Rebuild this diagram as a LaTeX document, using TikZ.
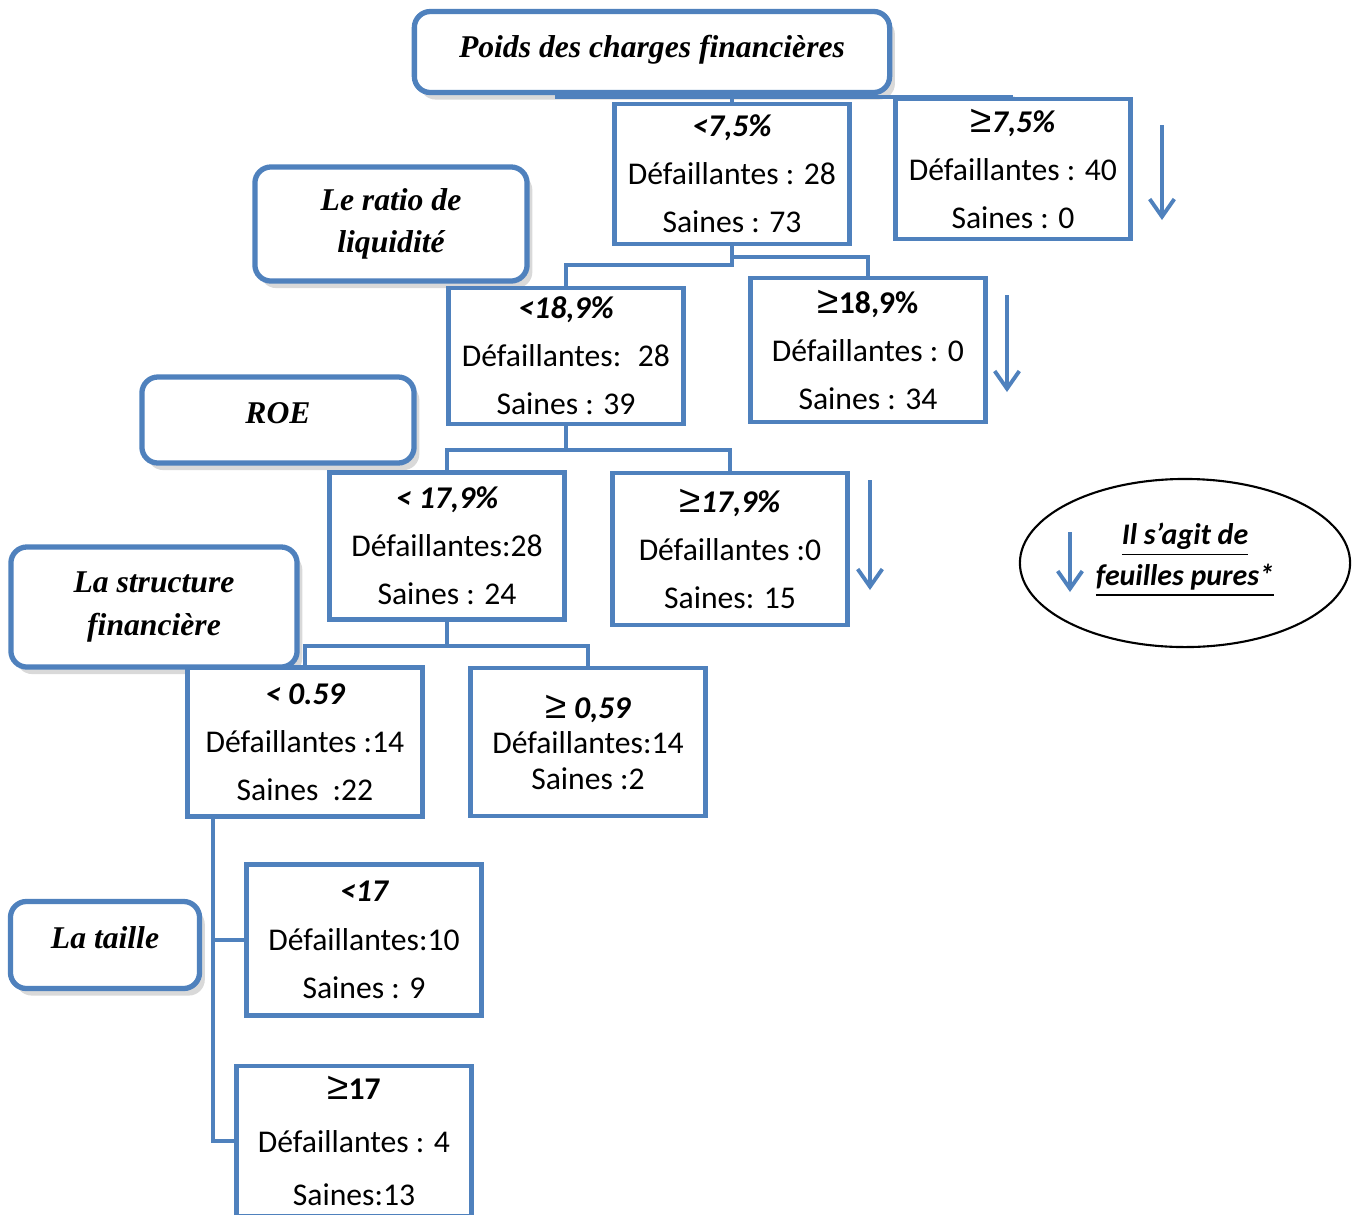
\documentclass[tikz,border=0pt]{standalone}
\usepackage{fontspec}
\setmainfont{Carlito}
\newfontfamily\titlefont{Liberation Serif}
\newfontfamily\geqfont{Liberation Sans}
\usepackage{tikz}
\usetikzlibrary{arrows.meta,shapes.geometric,shadows}
\definecolor{boxblue}{RGB}{79,129,189}
\newcommand{\gq}{{\geqfont\mdseries\upshape\fontsize{11}{11}\selectfont ≥}}
\newcommand{\cond}[1]{{\bfseries\itshape #1}}

\begin{document}
\begin{tikzpicture}[x=0.01cm, y=-0.01cm, every node/.style={inner sep=0pt},
    varbox/.style={draw=boxblue, line width=1.5pt, rounded corners=0.16cm, fill=white, align=center,
        font=\titlefont\fontsize{9}{12}\selectfont\bfseries\itshape,
        drop shadow={shadow xshift=1.5pt, shadow yshift=-2pt, opacity=0.3}},
    leafbox/.style={draw=boxblue, line width=1.2pt, fill=white, align=center,
        minimum width=2.35cm, font=\fontsize{9}{13.7}\selectfont},
    link/.style={draw=boxblue, line width=1.2pt},
    leafarrow/.style={draw=boxblue, line width=1.1pt, -{Straight Barb[length=5pt,width=7pt]}}]
        \useasboundingbox (0,0) rectangle (1357,1214);
        % Draw the variable boxes
        \node[varbox, minimum width=4.75cm, minimum height=0.81cm, text depth=3pt] (root) at (652,52) {Poids des charges financières};
        \node[varbox, minimum width=2.72cm, minimum height=1.14cm] (liq) at (391,224) {Le ratio de\\liquidité};
        \node[varbox, minimum width=2.72cm, minimum height=0.86cm, text depth=4pt] (roe) at (278,420) {ROE};
        \node[varbox, minimum width=2.86cm, minimum height=1.20cm] (struct) at (154,607) {La structure\\financière};
        \node[varbox, minimum width=1.89cm, minimum height=0.87cm, text depth=4pt] (taille) at (105,945) {La taille};
        % Draw the splits
        \node[leafbox, minimum height=1.40cm] (A1) at (732,174) {\cond{<7,5\%}\\Défaillantes : 28\\Saines : 73};
        \node[leafbox, minimum height=1.40cm] (A2) at (1013,169) {\gq\cond{7,5\%}\\Défaillantes : 40\\Saines : 0};
        \node[leafbox, minimum height=1.36cm] (B1) at (566,356) {\cond{<18,9\%}\\Défaillantes: ~28\\Saines : 39};
        \node[leafbox, minimum height=1.44cm] (B2) at (868,350) {\gq\textbf{18,9\%}\\Défaillantes : 0\\Saines : 34};
        \node[leafbox, minimum height=1.47cm] (C1) at (447,546) {\cond{< 17,9\%}\\Défaillantes:28\\Saines : 24};
        \node[leafbox, minimum height=1.52cm] (C2) at (730,549) {\gq\cond{17,9\%}\\Défaillantes :0\\Saines: 15};
        \node[leafbox, minimum height=1.49cm] (D1) at (305,742) {\cond{< 0.59}\\Défaillantes :14\\Saines ~:22};
        \node[leafbox, minimum height=1.48cm, font=\fontsize{9}{10.1}\selectfont] (D2) at (588,742) {\gq\ \cond{0,59}\\Défaillantes:14\\Saines :2};
        \node[leafbox, minimum height=1.51cm] (E1) at (364,940) {\cond{<17}\\Défaillantes:10\\Saines : 9};
        \node[leafbox, minimum height=1.50cm, font=\fontsize{9}{15.1}\selectfont] (E2) at (354,1141) {\gq\textbf{17}\\Défaillantes : 4\\Saines:13};
        % Draw the branches
        \coordinate (rootfoot) at (555,97);
        \draw[link] (rootfoot) -| (A2.north);
        \draw[link] (A1.north) -- (A1.north |- rootfoot);
        \draw[link] (A1.south) -- ++(0,19) -| (B1.north);
        \draw[link] (A1.south) -- ++(0,11) -| (B2.north);
        \draw[link] (B1.south) -- ++(0,24) -| (C1.north);
        \draw[link] (B1.south) -- ++(0,24) -| (C2.north);
        \draw[link] (C1.south) -- ++(0,24) -| (D1.north);
        \draw[link] (C1.south) -- ++(0,24) -| (D2.north);
        \coordinate (sizefoot) at (213,817);
        \draw[link] (sizefoot) |- (E1.west);
        \draw[link] (sizefoot) |- (E2.west);
        % Draw the legend
        \node[ellipse, draw=black, line width=0.6pt, minimum width=3.30cm, minimum height=1.68cm] (legend) at (1185,563) {};
        \node[align=center, font=\fontsize{8.5}{11.7}\selectfont\bfseries\itshape] (legendtext) at (1185,560)
            {\underline{Il s’agit de}\\\underline{feuilles pures*}};
        % Draw the pure leaf arrows
        \foreach \x/\ya/\yb in {1162/125/220, 1007/295/392, 870/480/590, 1070/532/592}
        \draw[leafarrow] (\x,\ya) -- (\x,\yb);
    \end{tikzpicture}
\end{document}
